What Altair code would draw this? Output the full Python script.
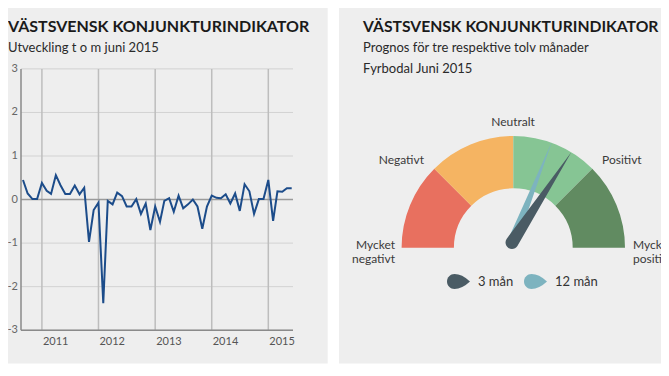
import math
import altair as alt
import pandas as pd

# ---------------- data ----------------
TITLE = "VÄSTSVENSK KONJUNKTURINDIKATOR"
LEFT_SUBTITLE = ["Utveckling t o m juni 2015"]
RIGHT_SUBTITLE = ["Prognos för tre respektive tolv månader", "Fyrbodal Juni 2015"]

MONTHS = pd.date_range("2010-09-01", "2015-06-01", freq="MS").strftime("%Y-%m-%d").tolist()
VALUES = [0.45, 0.14, 0.01, 0.01, 0.38, 0.20, 0.13, 0.56, 0.33, 0.13,
          0.13, 0.32, 0.12, 0.27, -0.97, -0.24, -0.07, -2.38, -0.03, -0.11,
          0.16, 0.08, -0.16, -0.16, 0.01, -0.33, -0.09, -0.70, -0.16, -0.51,
          -0.03, 0.03, -0.28, 0.09, -0.20, -0.11, 0.00, -0.16, -0.67, -0.16,
          0.09, 0.04, 0.03, 0.12, -0.09, 0.14, -0.26, 0.35, 0.19, -0.33,
          0.01, 0.01, 0.45, -0.49, 0.19, 0.18, 0.26, 0.26]

Y_TICKS = [-3, -2, -1, 0, 1, 2, 3]
Y_TICK_LABELS = ["-3", "-2", "-1", "0", "1", "2", "3"]
YEAR_TICKS = ["2011-01-01", "2012-01-01", "2013-01-01", "2014-01-01", "2015-01-01"]
YEAR_LABELS = ["2011", "2012", "2013", "2014", "2015"]

SEGMENT_NAMES = ["Mycket negativt–Negativt", "Negativt–Neutralt", "Neutralt–Positivt", "Positivt–Mycket positivt"]
SEGMENT_START = [-2, -1, 0, 1]
SEGMENT_END = [-1, 0, 1, 2]
GAUGE_LABELS = ["Mycket\nnegativt", "Negativt", "Neutralt", "Positivt", "Mycket\npositivt"]

SERIES = ["3 mån", "12 mån"]
NEEDLE_VALUES = [0.74, 0.48]

# ---------------- styles ----------------
FONT = "Lato"
SEG_COLORS = ["#E8705F", "#F5B462", "#86C594", "#618B61"]
NEEDLE_COLORS = ["#4A5B64", "#7DB3BF"]
LINE_COLOR = "#1C4C8A"

needle_dark = "M -0.06 0 A 0.06 0.06 0 1 0 0.06 0 L 0 -1 Z"
needle_teal = "M -0.045 0 A 0.045 0.045 0 1 0 0.045 0 L 0 -1 Z"
teardrop = "M 1 0 Q 0.3 -0.65 -0.35 -0.65 A 0.65 0.65 0 0 0 -0.35 0.65 Q 0.3 0.65 1 0 Z"

one = pd.DataFrame({"a": [0]})

# ---------------- left panel ----------------
X0, X1 = 13, 285          # plot frame
YT, YB = 60.9, 322.2      # y of +3 and -3
xscale = alt.Scale(domain=[alt.DateTime(year=2010, month=9, date=1, utc=True),
                           alt.DateTime(year=2015, month=6, date=1, utc=True)],
                   range=[15, 283.7])
yscale = alt.Scale(domain=[-3, 3], range=[YB, YT], nice=False, zero=False)

line_df = pd.DataFrame({"month": MONTHS, "value": VALUES})
ytick_df = pd.DataFrame({"v": Y_TICKS, "label": Y_TICK_LABELS})
year_df = pd.DataFrame({"d": YEAR_TICKS, "label": YEAR_LABELS})

bg_left = alt.Chart(one).mark_rect(color="#EEEEEE").encode(
    x=alt.value(0), x2=alt.value(319.7), y=alt.value(0), y2=alt.value(355.5))
bg_right = alt.Chart(one).mark_rect(color="#EEEEEE").encode(
    x=alt.value(331), x2=alt.value(653), y=alt.value(0), y2=alt.value(355.5))

hgrid = alt.Chart(ytick_df).mark_rule(color="#D2D2D2", strokeWidth=1).encode(
    y=alt.Y("v:Q", scale=yscale, axis=None), x=alt.value(X0), x2=alt.value(X1))
vgrid = alt.Chart(year_df).mark_rule(color="#BDBDBD", strokeWidth=1.5).encode(
    x=alt.X("d:T", scale=xscale, axis=None), y=alt.value(YT), y2=alt.value(YB))
zero_line = alt.Chart(ytick_df).transform_filter("datum.v == 0").mark_rule(
    color="#9A9A9A", strokeWidth=1.5).encode(
    y=alt.Y("v:Q", scale=yscale, axis=None), x=alt.value(X0), x2=alt.value(X1))
x_axis = alt.Chart(ytick_df).transform_filter("datum.v == -3").mark_rule(
    color="#8A8A8A", strokeWidth=1.5).encode(
    y=alt.Y("v:Q", scale=yscale, axis=None), x=alt.value(X0), x2=alt.value(X1))
y_axis = alt.Chart(one).mark_rule(color="#8A8A8A", strokeWidth=1.5).encode(
    x=alt.value(X0), y=alt.value(YT), y2=alt.value(YB))

line = alt.Chart(line_df).mark_line(color=LINE_COLOR, strokeWidth=2).encode(
    x=alt.X("month:T", scale=xscale, axis=None),
    y=alt.Y("value:Q", scale=yscale, axis=None))

ylabels = alt.Chart(ytick_df).mark_text(
    align="right", baseline="middle", font=FONT, fontSize=11, color="#666666").encode(
    y=alt.Y("v:Q", scale=yscale, axis=None), x=alt.value(10), text="label:N")
xlabels = alt.Chart(year_df).mark_text(
    align="left", baseline="middle", font=FONT, fontSize=11, color="#555555", dx=1).encode(
    x=alt.X("d:T", scale=xscale, axis=None), y=alt.value(333.7), text="label:N")

def text_layer(txt, x, y, size, weight="normal", color="#222222", align="left"):
    return alt.Chart(pd.DataFrame({"t": [txt]})).mark_text(
        align=align, baseline="alphabetic", font=FONT, fontSize=size,
        fontWeight=weight, color=color).encode(
        x=alt.value(x), y=alt.value(y), text="t:N")

titles = [
    text_layer(TITLE, 0, 23.7, 16, "bold", "#1A1A1A"),
    text_layer(LEFT_SUBTITLE[0], 0, 44, 13, "normal", "#2A2A2A"),
    text_layer(TITLE, 355, 23.7, 15.7, "bold", "#1A1A1A"),
    text_layer(RIGHT_SUBTITLE[0], 355, 44.3, 13, "normal", "#2A2A2A"),
    text_layer(RIGHT_SUBTITLE[1], 355, 64.7, 13, "normal", "#2A2A2A"),
]

# ---------------- right panel (gauge) ----------------
CX, CY = 505.3, 239.7
PX, PY = 504, 234.5
seg_df = pd.DataFrame({"segment": SEGMENT_NAMES, "start": SEGMENT_START, "end": SEGMENT_END})
theta_scale = alt.Scale(domain=[-2, 2], range=[1.5 * math.pi, 2.5 * math.pi])

arcs = alt.Chart(seg_df).mark_arc(radius=111.7, radius2=59.4).encode(
    theta=alt.Theta("start:Q", scale=theta_scale),
    theta2="end:Q",
    fill=alt.Fill("segment:N", scale=alt.Scale(domain=SEGMENT_NAMES, range=SEG_COLORS), legend=None),
    x=alt.value(CX), y=alt.value(CY))

lab_df = pd.DataFrame({"label": GAUGE_LABELS, "idx": list(range(len(GAUGE_LABELS)))})
def gauge_label(idx, x, y, align):
    return alt.Chart(lab_df).transform_filter(f"datum.idx == {idx}").mark_text(
        align=align, baseline="middle", font=FONT, fontSize=12, color="#3A3A3A",
        lineBreak="\n", lineHeight=14).encode(
        x=alt.value(x), y=alt.value(y), text="label:N")

glabels = [
    gauge_label(0, 387, 237, "right"),
    gauge_label(1, 416, 152, "right"),
    gauge_label(2, 505, 114, "center"),
    gauge_label(3, 594, 152, "left"),
    gauge_label(4, 625, 237, "left"),
]

needle_df = pd.DataFrame({"series": SERIES, "value": NEEDLE_VALUES})
color_enc = alt.Color("series:N", scale=alt.Scale(domain=SERIES, range=NEEDLE_COLORS),
                      legend=alt.Legend(title=None, orient="none", legendX=439, legendY=262,
                                        direction="horizontal", symbolType=teardrop,
                                        symbolSize=529, symbolStrokeWidth=0,
                                        labelFont=FONT, labelFontSize=13, labelColor="#333333",
                                        labelOffset=8, columnPadding=10, padding=0))
angle_enc = alt.Angle("value:Q", scale=alt.Scale(domain=[-2, 2], range=[270, 450]))

needle12 = alt.Chart(needle_df).transform_filter("datum.series == '12 mån'").mark_point(
    shape=needle_teal, filled=True, opacity=1, size=46656).encode(
    x=alt.value(PX), y=alt.value(PY), angle=angle_enc, color=color_enc)
needle3 = alt.Chart(needle_df).transform_filter("datum.series == '3 mån'").mark_point(
    shape=needle_dark, filled=True, opacity=1, size=46656).encode(
    x=alt.value(PX), y=alt.value(PY), angle=angle_enc, color=color_enc)

chart = alt.layer(
    bg_left, bg_right, hgrid, vgrid, zero_line, x_axis, y_axis, line, ylabels, xlabels,
    *titles, arcs, *glabels, needle12, needle3
).properties(
    width=653, height=360, padding=0, background="white",
    autosize=alt.AutoSizeParams(type="none")
).configure_view(strokeWidth=0)

chart.save("out.html", embed_options={"renderer": "svg", "actions": False})
